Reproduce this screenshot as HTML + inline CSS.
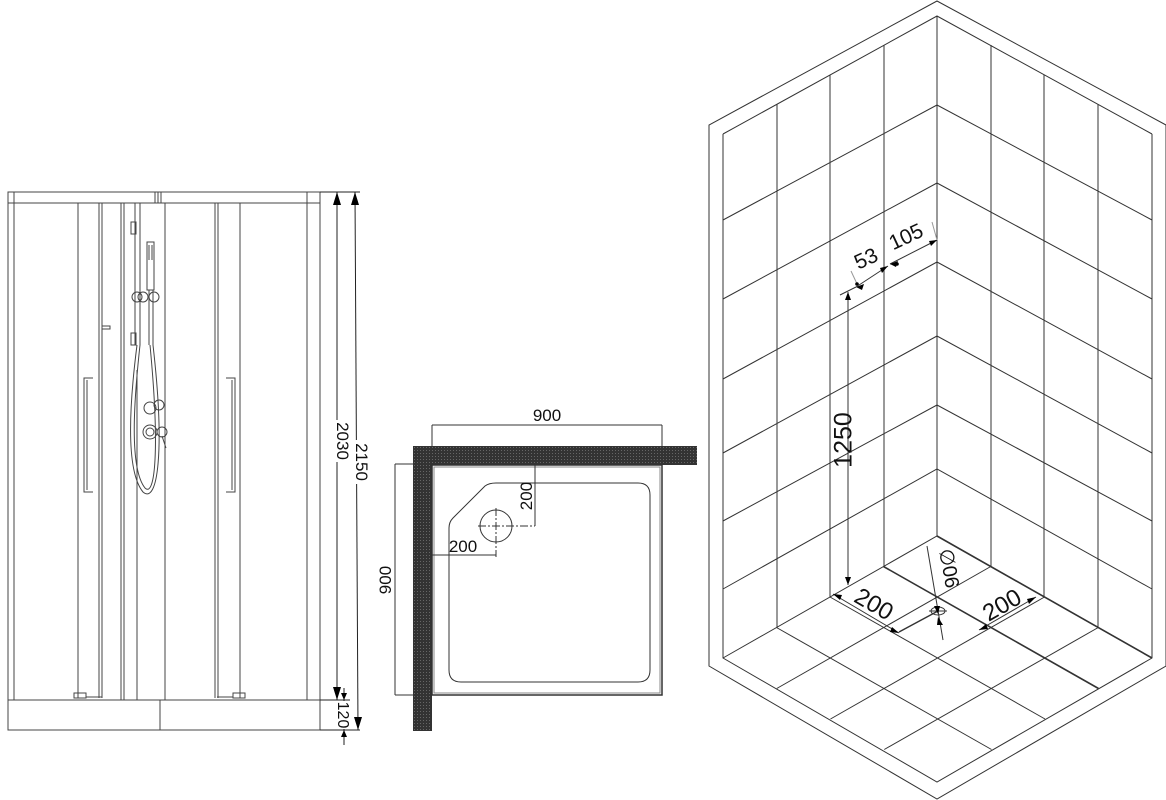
<!DOCTYPE html>
<html><head><meta charset="utf-8"><style>
html,body{margin:0;padding:0;background:#fff;}
svg{display:block}
text{font-family:"Liberation Sans",sans-serif;fill:#111}
</style></head><body>
<svg width="1166" height="800" viewBox="0 0 1166 800" xmlns="http://www.w3.org/2000/svg">
<defs>
<pattern id="hatch" width="3" height="3" patternUnits="userSpaceOnUse">
<rect width="3" height="3" fill="#333"/><rect width="1" height="1" fill="#666"/>
</pattern>
</defs>

<g stroke="#444" stroke-width="1" fill="none">
<rect x="8" y="192" width="312" height="538"/>
<line x1="14" y1="192" x2="14" y2="700"/>
<line x1="307" y1="192" x2="307" y2="700"/>
<line x1="8" y1="203" x2="320" y2="203"/>
<line x1="8" y1="700" x2="320" y2="700"/>
<line x1="160" y1="700" x2="160" y2="730"/>
<line x1="155" y1="192" x2="155" y2="203"/>
<line x1="158" y1="192" x2="158" y2="203"/>
<line x1="161" y1="192" x2="161" y2="203"/>
<line x1="78" y1="203" x2="78" y2="698"/>
<line x1="99" y1="203" x2="99" y2="698"/>
<line x1="102" y1="203" x2="102" y2="698"/>
<line x1="121" y1="203" x2="121" y2="700"/>
<line x1="124" y1="203" x2="124" y2="700"/>
<line x1="137" y1="370" x2="137" y2="700"/>
<line x1="165" y1="203" x2="165" y2="700"/>
<line x1="215" y1="203" x2="215" y2="698"/>
<line x1="218" y1="203" x2="218" y2="698"/>
<line x1="240" y1="203" x2="240" y2="698"/>
<path d="M93 378 H84 V492 H93 M87 380 V490"/>
<path d="M226 378 H235 V492 H226 M232 380 V490"/>
<rect x="102" y="326" width="8" height="3"/>
<rect x="74" y="693" width="12" height="5"/>
<rect x="233" y="693" width="12" height="5"/>
<line x1="86" y1="697" x2="102" y2="697"/>
<line x1="217" y1="697" x2="233" y2="697"/>
<path d="M135 203 V345 M140 203 V345"/>
<rect x="131" y="222" width="5" height="12"/>
<rect x="131" y="333" width="5" height="12"/>
<rect x="147" y="242" width="7" height="48"/>
<line x1="149" y1="245" x2="149" y2="260"/><line x1="152" y1="245" x2="152" y2="260"/>
<line x1="149" y1="290" x2="149" y2="345"/><line x1="153" y1="290" x2="153" y2="345"/>
<ellipse cx="137" cy="297" rx="5" ry="5"/>
<ellipse cx="143" cy="297" rx="5" ry="5"/>
<ellipse cx="154" cy="297" rx="5" ry="5"/>
<path d="M137 345 C130 400 125 470 143 492 C158 505 165 450 153 345"/>
<path d="M140 345 C134 400 129 468 145 488 C155 498 160 450 150 345"/>
<circle cx="150" cy="408" r="6"/><circle cx="159" cy="405" r="5"/>
<circle cx="150" cy="432" r="7"/><circle cx="150" cy="432" r="4"/>
<circle cx="162" cy="432" r="5"/>
<line x1="162" y1="436" x2="166" y2="448"/>
</g>
<g stroke="#222" stroke-width="1" fill="none">
<line x1="320" y1="192" x2="360" y2="192"/>
<line x1="320" y1="730" x2="360" y2="730"/>
<line x1="320" y1="700" x2="350" y2="700"/>
<line x1="337" y1="192" x2="337" y2="700"/>
<line x1="355" y1="192" x2="358" y2="730"/>
<line x1="344" y1="688" x2="344" y2="745"/>
</g>
<g fill="#000">
<polygon points="333,205 341,205 337,192"/>
<polygon points="333,687 341,687 337,700"/>
<polygon points="351,205 359,205 355,192"/>
<polygon points="354,717 362,717 358,730"/>
<polygon points="341,693 347,693 344,700"/>
<polygon points="341,737 347,737 344,730"/>
</g>
<rect x="330" y="420" width="15" height="42" fill="#fff"/>
<rect x="349" y="440" width="15" height="44" fill="#fff"/>
<rect x="337" y="701" width="14" height="28" fill="#fff"/>
<text transform="translate(337,441) rotate(90)" font-size="17" text-anchor="middle">2030</text>
<text transform="translate(356,462) rotate(90)" font-size="17" text-anchor="middle">2150</text>
<text transform="translate(338,715) rotate(90)" font-size="16" text-anchor="middle">120</text>

<rect x="413" y="446" width="284" height="19" fill="url(#hatch)"/>
<rect x="413" y="446" width="19" height="285" fill="url(#hatch)"/>
<g stroke="#333" stroke-width="1" fill="none">
<rect x="432" y="465" width="230" height="230" stroke-width="1.5"/>
<rect x="434" y="467" width="226" height="226" stroke="#888"/>
<path d="M496 483 H638 Q650 483 650 495 V670 Q650 682 638 682 H461 Q449 682 449 670 V528 Q449 522 453 518 L485 486 Q489 483 496 483 Z"/>
<circle cx="496" cy="526" r="16"/>
<line x1="478" y1="526" x2="535" y2="526" stroke-dasharray="8,2,2,2"/>
<line x1="496" y1="508" x2="496" y2="557" stroke-dasharray="8,2,2,2"/>
<line x1="535" y1="465" x2="535" y2="526"/>
<line x1="432" y1="555" x2="496" y2="555"/>
<line x1="432" y1="425" x2="662" y2="425"/>
<line x1="432" y1="425" x2="432" y2="446"/>
<line x1="662" y1="425" x2="662" y2="446"/>
<line x1="395" y1="464" x2="395" y2="695"/>
<line x1="395" y1="464" x2="432" y2="464"/>
<line x1="395" y1="695" x2="432" y2="695"/>
</g>
<text x="547" y="421" font-size="17" text-anchor="middle" font-family="Liberation Serif">900</text>
<text transform="translate(391,580) rotate(-90)" font-size="17" text-anchor="middle" font-family="Liberation Serif">900</text>
<text transform="translate(532,496) rotate(-90)" font-size="17" text-anchor="middle" font-family="Liberation Serif">200</text>
<text x="463" y="552" font-size="17" text-anchor="middle" font-family="Liberation Serif">200</text>

<g stroke="#333" stroke-width="1" fill="none">
<polygon points="937,1 709,125 709,666 937,799 1166,666 1166,125"/>
<path d="M723 134 V658 L937 782 L1152 658 V134"/>
<line x1="937" y1="16" x2="937" y2="536"/>
<path d="M723 134 L937 16 L1152 134"/>
<path d="M723 220 L937 105 L1152 220"/>
<path d="M723 299 L937 183 L1152 299"/>
<path d="M723 379 L937 262 L1152 379"/>
<path d="M723 453 L937 336 L1152 453"/>
<path d="M723 521 L937 405 L1152 521"/>
<path d="M723 589 L937 469 L1152 589"/>
<path d="M723 658 L937 536 L1152 658"/>
<line x1="777" y1="104" x2="777" y2="627"/>
<line x1="830" y1="75" x2="830" y2="597"/>
<line x1="884" y1="45" x2="884" y2="566"/>
<line x1="991" y1="45" x2="991" y2="566"/>
<line x1="1044" y1="75" x2="1044" y2="597"/>
<line x1="1098" y1="104" x2="1098" y2="627"/>
<line x1="883.5" y1="566.5" x2="1098.5" y2="688.5" stroke-width="1.6"/>
<line x1="830" y1="597" x2="1045" y2="719"/>
<line x1="776.5" y1="627.5" x2="991.5" y2="749.5"/>
<line x1="990.75" y1="566.5" x2="776.75" y2="688.5"/>
<line x1="1044.5" y1="597" x2="830.5" y2="719"/>
<line x1="1098.25" y1="627.5" x2="884.25" y2="749.5"/>
<line x1="937" y1="536" x2="1152" y2="658" stroke-width="1.6"/>
<ellipse cx="938" cy="611" rx="7" ry="4"/>
<line x1="929" y1="611" x2="947" y2="611"/>
<line x1="899" y1="632" x2="938" y2="611" stroke-width="1.4"/>
<line x1="927" y1="546" x2="943" y2="640"/>
<line x1="833" y1="594" x2="899" y2="633"/>
<line x1="979" y1="630" x2="1036" y2="597"/>
<line x1="848" y1="292" x2="848" y2="585"/>
<line x1="840" y1="295" x2="856" y2="287"/>
<line x1="856" y1="287" x2="888" y2="266"/>
<line x1="890" y1="264" x2="937" y2="240"/>
<line x1="851" y1="271" x2="858" y2="286" stroke="#999"/>
<line x1="932" y1="222" x2="937" y2="240" stroke="#999"/>
</g>
<g fill="#000">
<polygon points="845,300 851,300 848,292"/>
<polygon points="845,577 851,577 848,585"/>
<polygon points="833,594 842,595 840,600"/>
<polygon points="899,633 890,632 892,627"/>
<polygon points="979,630 986,624 988,629"/>
<polygon points="1036,597 1029,604 1027,599"/>
<polygon points="856,287 864,284 862,290"/>
<polygon points="888,266 880,268 882,273"/>
<polygon points="890,264 898,261 896,267"/>
<polygon points="937,240 929,241 931,246"/>
<circle cx="897" cy="264" r="1.8"/>
<circle cx="857" cy="284" r="1.8"/>
<polygon points="934,606 940,606 938,614"/>
<polygon points="938,617 943,625 937,625"/>
</g>
<text transform="translate(845,440) rotate(-90)" font-size="25" text-anchor="middle" dominant-baseline="middle">1250</text>
<text transform="translate(869,265) rotate(-25)" font-size="21" text-anchor="middle">53</text>
<text transform="translate(909,243) rotate(-25)" font-size="21" text-anchor="middle">105</text>
<text transform="translate(870,611) rotate(30)" font-size="24" text-anchor="middle">200</text>
<text transform="translate(1006,612) rotate(-30)" font-size="24" text-anchor="middle">200</text>
<text transform="translate(951,568) rotate(-100)" font-size="20" text-anchor="middle" dominant-baseline="middle">90∅</text>
</svg>
</body></html>
